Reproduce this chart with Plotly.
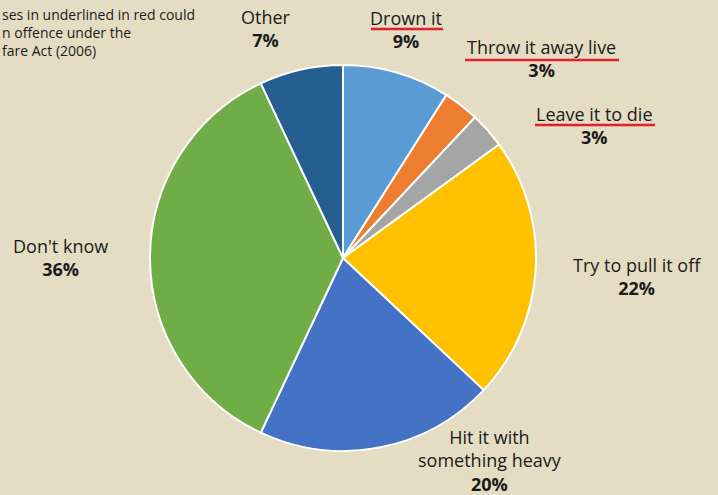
import plotly.graph_objects as go

W, H = 718, 495

labels = ["Drown it", "Throw it away live", "Leave it to die", "Try to pull it off",
          "Hit it with something heavy", "Don't know", "Other"]
values = [9, 3, 3, 22, 20, 36, 7]
colors = ["#5B9BD5", "#ED7D31", "#A5A5A5", "#FFC000", "#4472C4", "#70AD47", "#255E91"]
underlined = [True, True, True, False, False, False, False]
label_text = ["Drown it", "Throw it away live", "Leave it to die", "Try to pull it off",
              "Hit it with<br>something heavy", "Don't know", "Other"]
note_lines = ["ses in underlined in red could", "n offence under the", "fare Act (2006)"]

# label centre positions in pixels (layout only)
label_pos = [(406, 30), (541, 59), (594, 126), (637, 276), (490, 460), (60, 257), (266, 28)]
underline_px = [(371, 443, 29), (465, 619, 60), (535, 655, 125)]

def px(x):
    return x / W

def py(y):
    return 1 - y / H

cx, cy, r = 343, 258, 193

fig = go.Figure(go.Pie(
    labels=labels, values=values, sort=False, direction="clockwise", rotation=0,
    marker=dict(colors=colors, line=dict(color="white", width=2)),
    textinfo="none", hoverinfo="label+percent", showlegend=False,
    domain=dict(x=[px(cx - r), px(cx + r)], y=[py(cy + r), py(cy - r)]),
))

font = "Open Sans, Lato, sans-serif"
annotations = []
for t, v, (x, y) in zip(label_text, values, label_pos):
    annotations.append(dict(
        text=f"{t}<br><b>{v}%</b>", x=px(x), y=py(y), xref="paper", yref="paper",
        xanchor="center", yanchor="middle", showarrow=False, align="center",
        font=dict(family=font, size=18, color="#1a1a1a"),
    ))

annotations.append(dict(
    text="<br>".join(note_lines), x=0, y=py(3), xref="paper", yref="paper",
    xanchor="left", yanchor="top", showarrow=False, align="left",
    font=dict(family=font, size=14, color="#1a1a1a"),
))

shapes = []
for (x0, x1, y), u in zip(underline_px, underlined):
    if u:
        shapes.append(dict(type="line", xref="paper", yref="paper",
                           x0=px(x0), x1=px(x1), y0=py(y), y1=py(y),
                           line=dict(color="#E0202A", width=2.5)))

fig.update_layout(
    width=W, height=H, margin=dict(l=0, r=0, t=0, b=0),
    paper_bgcolor="#E5DDC3", plot_bgcolor="#E5DDC3",
    annotations=annotations, shapes=shapes,
)

fig.write_html("out.html", config={"displayModeBar": False},
               post_script="document.body.style.margin='0';document.body.style.overflow='hidden';")
